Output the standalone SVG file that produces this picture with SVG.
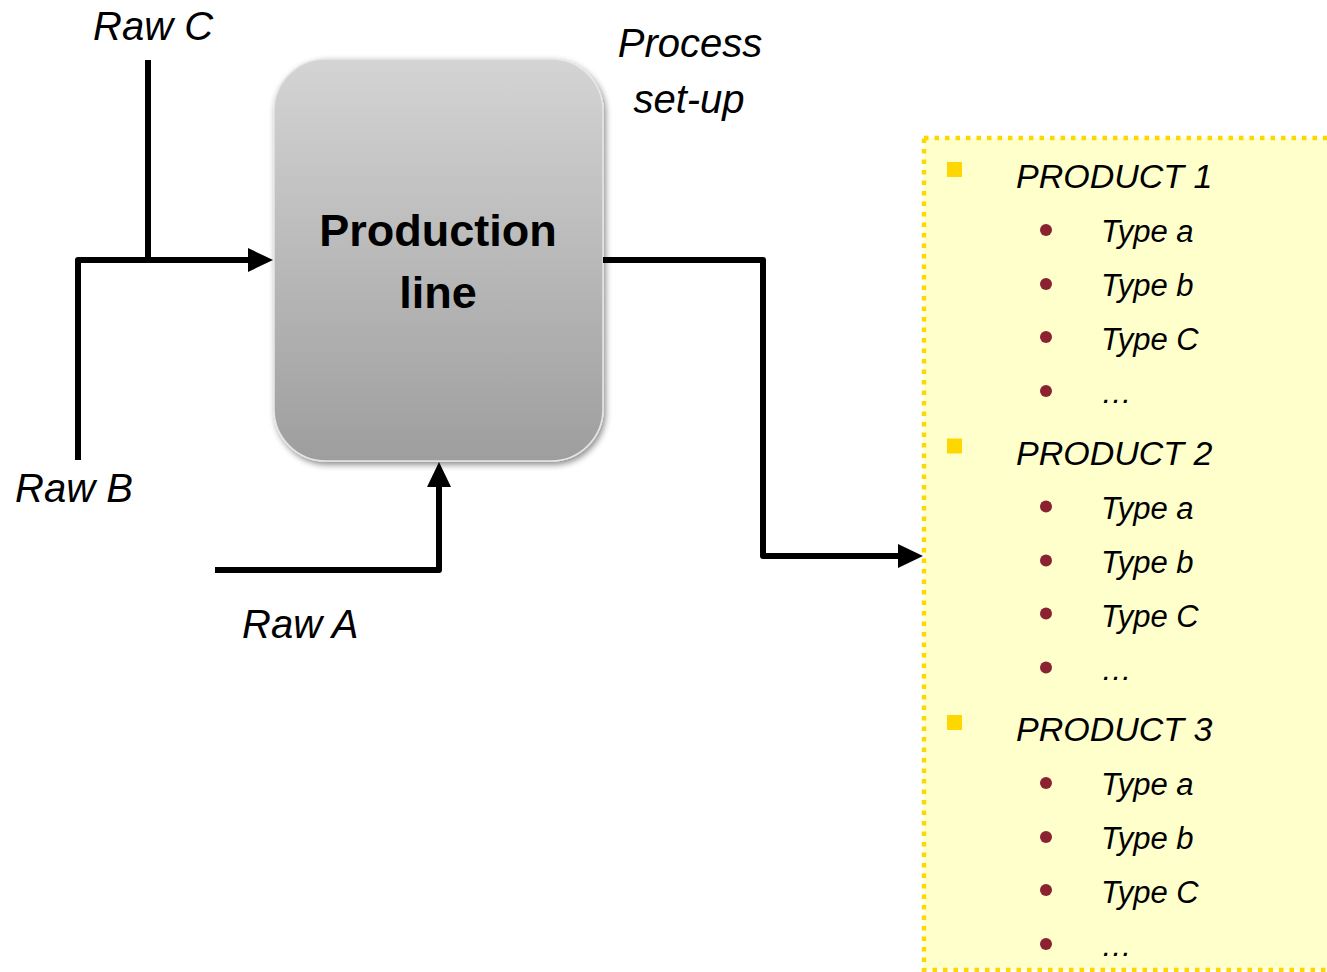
<svg xmlns="http://www.w3.org/2000/svg" width="1327" height="972" viewBox="0 0 1327 972">
<style>
.lbl{font-family:"Liberation Sans",Arial,sans-serif;font-style:italic;fill:#000}
.big{font-size:40px}
.prod{font-size:34px}
.typ{font-size:31px}
.title{font-family:"Liberation Sans",Arial,sans-serif;font-weight:bold;font-size:45px;fill:#000;text-anchor:middle}
.conn{fill:none;stroke:#000;stroke-width:6;stroke-linejoin:round}
.sq{fill:#FFD700}
.dot{fill:#8B2232}
</style>
<defs>
<linearGradient id="gbox" x1="0" y1="0" x2="0" y2="1">
<stop offset="0" stop-color="#d4d4d4"/>
<stop offset="1" stop-color="#9e9e9e"/>
</linearGradient>
<filter id="sh" x="-10%" y="-10%" width="130%" height="130%">
<feDropShadow dx="2" dy="3" stdDeviation="3" flood-color="#000" flood-opacity="0.45"/>
</filter>
<marker id="arr" markerUnits="userSpaceOnUse" markerWidth="26" markerHeight="26" refX="3" refY="12" orient="auto">
<path d="M0,0 L25,12 L0,24 z" fill="#000"/>
</marker>
</defs>
<rect width="1327" height="972" fill="#fff"/>

<g id="products">
<rect x="924" y="138" width="420" height="832" fill="#FFFFCC" stroke="#FFD700" stroke-width="4.5" stroke-dasharray="4.5 6"/>
<g id="product1">
<rect class="sq" x="947" y="162" width="15" height="15"/>
<text class="lbl prod" x="1016" y="188">PRODUCT 1</text>
<circle class="dot" cx="1046" cy="230" r="6"/>
<circle class="dot" cx="1046" cy="284" r="6"/>
<circle class="dot" cx="1046" cy="337" r="6"/>
<circle class="dot" cx="1046" cy="391" r="6"/>
<text class="lbl typ" x="1101" y="242">Type a</text>
<text class="lbl typ" x="1101" y="296">Type b</text>
<text class="lbl typ" x="1101" y="350">Type C</text>
<text class="lbl typ" x="1101" y="403">…</text>
</g>
<g id="product2" transform="translate(0,276.5)">
<rect class="sq" x="947" y="162" width="15" height="15"/>
<text class="lbl prod" x="1016" y="188">PRODUCT 2</text>
<circle class="dot" cx="1046" cy="230" r="6"/>
<circle class="dot" cx="1046" cy="284" r="6"/>
<circle class="dot" cx="1046" cy="337" r="6"/>
<circle class="dot" cx="1046" cy="391" r="6"/>
<text class="lbl typ" x="1101" y="242">Type a</text>
<text class="lbl typ" x="1101" y="296">Type b</text>
<text class="lbl typ" x="1101" y="350">Type C</text>
<text class="lbl typ" x="1101" y="403">…</text>
</g>
<g id="product3" transform="translate(0,553)">
<rect class="sq" x="947" y="162" width="15" height="15"/>
<text class="lbl prod" x="1016" y="188">PRODUCT 3</text>
<circle class="dot" cx="1046" cy="230" r="6"/>
<circle class="dot" cx="1046" cy="284" r="6"/>
<circle class="dot" cx="1046" cy="337" r="6"/>
<circle class="dot" cx="1046" cy="391" r="6"/>
<text class="lbl typ" x="1101" y="242">Type a</text>
<text class="lbl typ" x="1101" y="296">Type b</text>
<text class="lbl typ" x="1101" y="350">Type C</text>
<text class="lbl typ" x="1101" y="403">…</text>
</g>
</g>

<g id="production-line">
<rect x="274" y="59" width="329" height="402" rx="52" ry="52" fill="url(#gbox)" stroke="#e6e6e6" stroke-width="1.5" filter="url(#sh)"/>
<text class="title" x="438" y="246">Production</text>
<text class="title" x="438" y="308">line</text>
</g>

<g id="raw-c"><text class="lbl big" x="93" y="40">Raw C</text></g>
<g id="raw-b"><text class="lbl big" x="15" y="502">Raw B</text></g>
<g id="raw-a"><text class="lbl big" x="242" y="638">Raw A</text></g>
<g id="process-setup">
<text class="lbl big" x="690" y="57" text-anchor="middle">Process</text>
<text class="lbl big" x="689" y="113" text-anchor="middle">set-up</text>
</g>

<g id="connectors">
<path class="conn" d="M148,60 V260"/>
<path class="conn" d="M78,460 V260 H251" marker-end="url(#arr)"/>
<path class="conn" d="M215,570 H439 V484" marker-end="url(#arr)"/>
<path class="conn" d="M603,260 H763 V556 H901" marker-end="url(#arr)"/>
</g>
</svg>
